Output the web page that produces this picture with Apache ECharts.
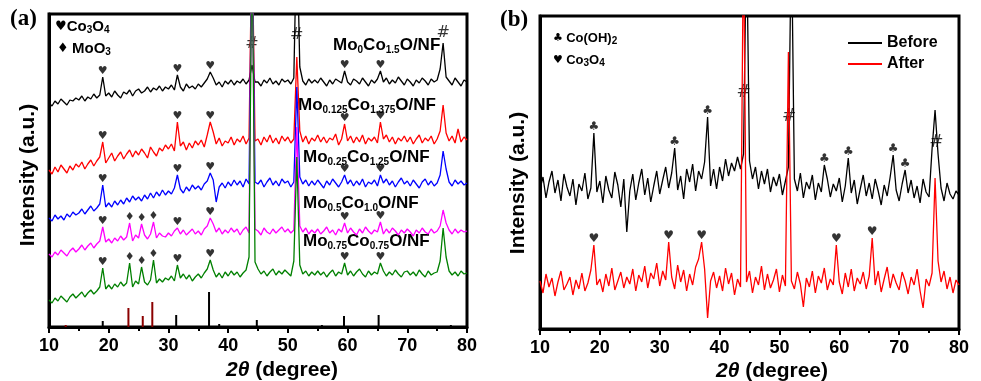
<!DOCTYPE html>
<html>
<head>
<meta charset="utf-8">
<script src="https://cdn.jsdelivr.net/npm/echarts@6/dist/echarts.min.js"></script>
<style>
  html, body { margin: 0; padding: 0; background: #fff; }
  #chart { width: 981px; height: 381px; }
</style>
</head>
<body>
<div id="chart"></div>
<script>
// 2theta grid: 10..80 deg, 0.5 deg step
var START = 10, STEP = 0.5;

// panel (a) intensities, arbitrary units
var mo0 = [
  224,221,226,223,228,225,222,227,226,229,
  227,231,226,230,228,233,229,232,250,231,
  234,230,236,232,229,235,233,237,231,236,
  238,234,236,240,235,239,237,241,236,240,
  238,242,237,252,240,236,243,239,241,238,
  243,240,244,248,255,249,242,245,240,246,
  243,247,242,246,244,248,243,247,262,245,
  245,241,247,244,249,243,246,242,248,245,
  247,243,249,400,260,246,242,248,244,247,
  244,249,245,241,247,243,248,246,244,256,
  245,242,248,246,243,249,245,241,247,244,
  248,256,245,249,243,247,244,250,246,242,
  248,245,241,247,244,249,246,242,248,245,
  247,258,284,250,246,242,249,245,241,247,
  245];
var mo0125 = [
  157,153,160,155,162,158,154,161,157,163,
  160,165,158,163,167,161,166,170,185,164,
  169,174,166,171,175,168,173,177,170,176,
  172,178,174,169,180,175,171,179,176,182,
  178,183,176,205,181,185,177,184,179,186,
  182,187,180,192,205,195,183,189,181,186,
  184,190,182,188,185,191,183,189,400,186,
  188,182,190,185,192,184,189,183,191,186,
  190,184,188,270,196,185,191,183,189,186,
  192,185,190,184,189,187,193,182,188,203,
  186,191,184,190,185,192,183,189,186,190,
  184,205,188,192,185,190,183,189,186,191,
  185,190,183,188,192,184,189,186,191,183,
  188,196,222,194,186,191,184,198,185,190,
  187];
var mo025 = [
  109,106,112,108,111,107,113,110,115,112,
  114,118,113,117,121,116,119,123,142,120,
  124,120,126,122,127,123,129,125,131,127,
  130,126,132,128,134,129,135,131,137,132,
  136,133,139,152,138,134,140,136,142,138,
  141,137,143,146,154,147,125,140,144,139,
  145,141,147,142,146,140,148,143,400,145,
  143,147,140,145,149,142,146,141,148,144,
  146,140,145,240,150,143,147,141,146,142,
  147,143,139,146,142,148,144,140,145,152,
  143,147,141,146,142,148,140,145,143,147,
  141,152,144,148,142,146,140,145,149,143,
  146,141,147,143,139,145,148,142,146,141,
  144,152,176,158,145,141,147,143,146,142,
  144];
var mo05 = [
  73,70,75,72,77,74,71,76,79,75,
  78,82,77,81,84,79,83,86,100,85,
  88,84,89,86,91,87,90,104,86,92,
  89,103,92,88,93,105,89,94,91,90,
  94,91,96,99,93,97,92,95,98,93,
  96,92,98,101,109,103,95,99,93,97,
  94,99,95,98,92,97,100,94,400,98,
  96,92,99,95,93,98,94,97,100,95,
  98,94,97,200,101,95,99,93,97,94,
  98,93,96,100,94,97,92,98,95,104,
  94,99,95,92,98,94,100,96,93,97,
  95,105,93,98,94,99,96,92,97,94,
  98,95,91,97,94,99,95,93,98,94,
  96,101,117,104,97,93,98,94,97,95,
  96];
var mo075 = [
  27,24,29,26,31,28,25,30,33,29,
  32,35,30,34,37,33,36,40,59,38,
  42,38,43,40,45,41,44,64,40,46,
  43,60,45,42,47,67,44,48,45,49,
  47,51,46,62,49,53,48,52,46,50,
  53,49,54,58,67,57,50,54,49,55,
  51,56,52,55,50,54,57,70,400,65,
  58,53,56,51,55,58,52,56,53,57,
  54,51,66,170,62,53,56,51,55,52,
  56,52,55,50,54,57,51,55,53,64,
  52,56,51,55,58,53,50,56,52,55,
  53,64,56,51,55,52,57,53,50,55,
  56,52,55,51,57,53,50,56,52,54,
  55,66,99,70,56,52,55,51,56,53,
  54];

// reference sticks (panel a)
var co3o4RefPos = [19.0, 31.3, 36.8, 38.5, 44.8, 55.7, 59.4, 65.2, 77.3];
var co3o4RefInt = [6, 12, 35, 3, 7, 2, 11, 12, 2];
var moo3RefPos = [12.8, 23.3, 25.7, 27.3];
var moo3RefInt = [2, 19, 11, 25];

// panel (b) intensities
var before = [
  140,152,131,147,158,136,149,128,155,142,
  133,150,124,145,138,156,130,141,196,137,
  148,126,153,139,131,157,144,122,150,97,
  138,155,129,146,160,134,151,127,143,158,
  135,149,162,141,156,181,139,153,130,160,
  147,165,138,158,150,167,212,143,160,140,
  162,148,170,153,166,158,172,160,175,400,
  168,150,162,140,158,145,160,137,152,143,
  155,134,148,162,400,150,138,156,131,147,
  140,154,129,146,137,164,150,132,145,138,
  151,127,143,171,136,149,125,140,154,133,
  146,130,150,138,124,144,133,152,174,139,
  128,145,159,136,149,131,143,126,150,137,
  132,180,219,175,141,128,146,135,130,138,
  134];
var after = [
  48,36,55,42,51,33,47,58,39,45,
  52,34,49,40,56,38,46,59,84,44,
  50,37,55,43,61,39,48,57,41,52,
  45,60,38,54,47,63,41,56,50,66,
  43,58,49,87,52,40,64,47,59,38,
  55,44,62,70,87,60,11,48,57,41,
  53,38,61,45,56,34,50,42,400,47,
  58,36,52,44,63,39,55,41,49,60,
  37,54,43,277,48,40,57,45,22,51,
  42,58,36,53,46,61,39,50,44,84,
  47,35,56,42,60,38,51,45,57,40,
  53,91,44,58,37,50,62,41,55,46,
  39,57,48,35,52,44,60,38,21,50,
  43,56,151,68,47,58,40,52,36,49,
  44];

// peak markers
var heartPeaksA = [19, 31.5, 37, 59.5, 65.5];
var diamondPeaksA = [23.5, 25.5, 27.5];
var hashA = [[44.0, 283], [51.5, 292], [76.0, 294]];
var clubPeaksB = [19, 32.5, 38, 57.5, 61.5, 69, 71];
var heartPeaksB = [19, 31.5, 37, 59.5, 65.5];
var hashB = [[44.0, 236], [51.6, 212], [76.2, 186]];

var FONT = 'Liberation Sans';

function toPairs(ys) {
  return ys.map(function (v, i) { return [START + i * STEP, v]; });
}
function valueAt(ys, angle) {
  return ys[Math.round((angle - START) / STEP)];
}
function zip(xs, ys) {
  return xs.map(function (x, i) { return [x, ys[i]]; });
}

function lineSeries(name, ys, color, idx) {
  return {
    name: name, type: 'line', xAxisIndex: idx, yAxisIndex: idx,
    data: toPairs(ys), symbol: 'none', clip: true, silent: true,
    lineStyle: { color: color, width: 1.3 }, itemStyle: { color: color }
  };
}
function glyphSeries(points, glyph, size, idx, pos) {
  return {
    type: 'scatter', xAxisIndex: idx, yAxisIndex: idx, silent: true,
    data: points, symbolSize: 1, itemStyle: { color: 'rgba(0,0,0,0)' },
    label: {
      show: true, position: pos || 'top', distance: 0, formatter: glyph,
      color: '#000', fontSize: size, fontFamily: 'DejaVu Sans'
    }
  };
}
function peakMarks(ys, angles) {
  return angles.map(function (a) { return [a, valueAt(ys, a)]; });
}

var seriesA = [
  lineSeries('Mo0', mo0, '#000000', 0),
  lineSeries('Mo0.125', mo0125, '#ff0000', 0),
  lineSeries('Mo0.25', mo025, '#0000ff', 0),
  lineSeries('Mo0.5', mo05, '#ff00ff', 0),
  lineSeries('Mo0.75', mo075, '#008000', 0),
  { type: 'bar', xAxisIndex: 0, yAxisIndex: 0, barWidth: 2, silent: true,
    data: zip(co3o4RefPos, co3o4RefInt), itemStyle: { color: '#000' } },
  { type: 'bar', xAxisIndex: 0, yAxisIndex: 0, barWidth: 2, silent: true, barGap: '-100%',
    data: zip(moo3RefPos, moo3RefInt), itemStyle: { color: '#8b0000' } }
];
[mo0, mo0125, mo025, mo05, mo075].forEach(function (ys) {
  seriesA.push(glyphSeries(peakMarks(ys, heartPeaksA), '♥', 11, 0));
});
[mo05, mo075].forEach(function (ys) {
  seriesA.push(glyphSeries(peakMarks(ys, diamondPeaksA), '♦', 11, 0));
});
seriesA.push(glyphSeries(hashA, '#', 16, 0, 'inside'));

var seriesB = [
  lineSeries('Before', before, '#000000', 1),
  lineSeries('After', after, '#ff0000', 1),
  glyphSeries(peakMarks(before, clubPeaksB), '♣', 12, 1),
  glyphSeries(peakMarks(after, heartPeaksB), '♥', 12, 1),
  glyphSeries(hashB, '#', 17, 1, 'inside')
];

function xAxisCfg(idx) {
  return {
    type: 'value', gridIndex: idx, min: 10, max: 80, interval: 10,
    axisLine: { show: true, lineStyle: { color: '#000', width: 3 } },
    axisTick: { show: true, length: 6, lineStyle: { color: '#000', width: 2 } },
    minorTick: { show: true, splitNumber: 2, length: 4, lineStyle: { color: '#000', width: 2 } },
    axisLabel: { color: '#000', fontSize: 18, fontWeight: 'bold', fontFamily: FONT, margin: 10 },
    splitLine: { show: false }
  };
}
function yAxisCfg(idx) {
  return {
    type: 'value', gridIndex: idx, min: 0, max: 313,
    axisLine: { show: true, lineStyle: { color: '#000', width: 3 } },
    axisTick: { show: false }, axisLabel: { show: false }, splitLine: { show: false }
  };
}

var sub = { fontSize: 10, fontWeight: 'bold', fontFamily: FONT, verticalAlign: 'bottom', color: '#000' };
function label(x, y, text, size) {
  return {
    type: 'text', left: x, top: y, silent: true,
    style: {
      text: text,
      rich: {
        m: { fontSize: size, fontWeight: 'bold', fontFamily: FONT, color: '#000', lineHeight: size + 2 },
        s: sub,
        h: { fontSize: size - 2, fontFamily: 'DejaVu Sans', color: '#000', lineHeight: size + 2 }
      }
    }
  };
}

var chart = echarts.init(document.getElementById('chart'));
chart.setOption({
  animation: false,
  backgroundColor: '#fff',
  grid: [
    { left: 49, top: 14, width: 418, height: 313, show: true, borderColor: '#000', borderWidth: 3 },
    { left: 540, top: 16, width: 419, height: 313, show: true, borderColor: '#000', borderWidth: 3 }
  ],
  xAxis: [xAxisCfg(0), xAxisCfg(1)],
  yAxis: [yAxisCfg(0), yAxisCfg(1)],
  legend: {
    data: ['Before', 'After'], orient: 'vertical', left: 843, top: 30,
    icon: 'rect', itemWidth: 34, itemHeight: 2, itemGap: 5, selectedMode: false,
    textStyle: { fontSize: 16, fontWeight: 'bold', fontFamily: FONT, color: '#000' }
  },
  series: seriesA.concat(seriesB),
  graphic: [
    { type: 'text', left: 10, top: 8, style: { text: '(a)', fontSize: 23, fontWeight: 'bold', fontFamily: 'Liberation Serif', fill: '#000' } },
    { type: 'text', left: 500, top: 9, style: { text: '(b)', fontSize: 23, fontWeight: 'bold', fontFamily: 'Liberation Serif', fill: '#000' } },
    label(55, 19, '{h|♥}{m|Co}{s|3}{m|O}{s|4}', 15),
    label(57, 41, '{h|♦} {m|MoO}{s|3}', 15),
    label(553, 32, '{h|♣} {m|Co(OH)}{s|2}', 13),
    label(553, 54, '{h|♥} {m|Co}{s|3}{m|O}{s|4}', 13),
    label(333, 37, '{m|Mo}{s|0}{m|Co}{s|1.5}{m|O/NF}', 17),
    label(298, 97, '{m|Mo}{s|0.125}{m|Co}{s|1.375}{m|O/NF}', 17),
    label(303, 149, '{m|Mo}{s|0.25}{m|Co}{s|1.25}{m|O/NF}', 17),
    label(303, 195, '{m|Mo}{s|0.5}{m|Co}{s|1.0}{m|O/NF}', 17),
    label(303, 233, '{m|Mo}{s|0.75}{m|Co}{s|0.75}{m|O/NF}', 17),
    { type: 'text', x: 28, y: 175, rotation: Math.PI / 2, silent: true,
      style: { text: 'Intensity (a.u.)', align: 'center', verticalAlign: 'middle', fontSize: 21, fontWeight: 'bold', fontFamily: FONT, fill: '#000' } },
    { type: 'text', x: 518, y: 183, rotation: Math.PI / 2, silent: true,
      style: { text: 'Intensity (a.u.)', align: 'center', verticalAlign: 'middle', fontSize: 21, fontWeight: 'bold', fontFamily: FONT, fill: '#000' } },
    { type: 'text', x: 282, y: 370, silent: true,
      style: { text: '{i|2θ}{n| (degree)}', align: 'center', verticalAlign: 'middle',
        rich: { i: { fontSize: 21, fontWeight: 'bold', fontStyle: 'italic', fontFamily: FONT, color: '#000' },
                n: { fontSize: 21, fontWeight: 'bold', fontFamily: FONT, color: '#000' } } } },
    { type: 'text', x: 772, y: 371, silent: true,
      style: { text: '{i|2θ}{n| (degree)}', align: 'center', verticalAlign: 'middle',
        rich: { i: { fontSize: 21, fontWeight: 'bold', fontStyle: 'italic', fontFamily: FONT, color: '#000' },
                n: { fontSize: 21, fontWeight: 'bold', fontFamily: FONT, color: '#000' } } } }
  ]
});
</script>
</body>
</html>
